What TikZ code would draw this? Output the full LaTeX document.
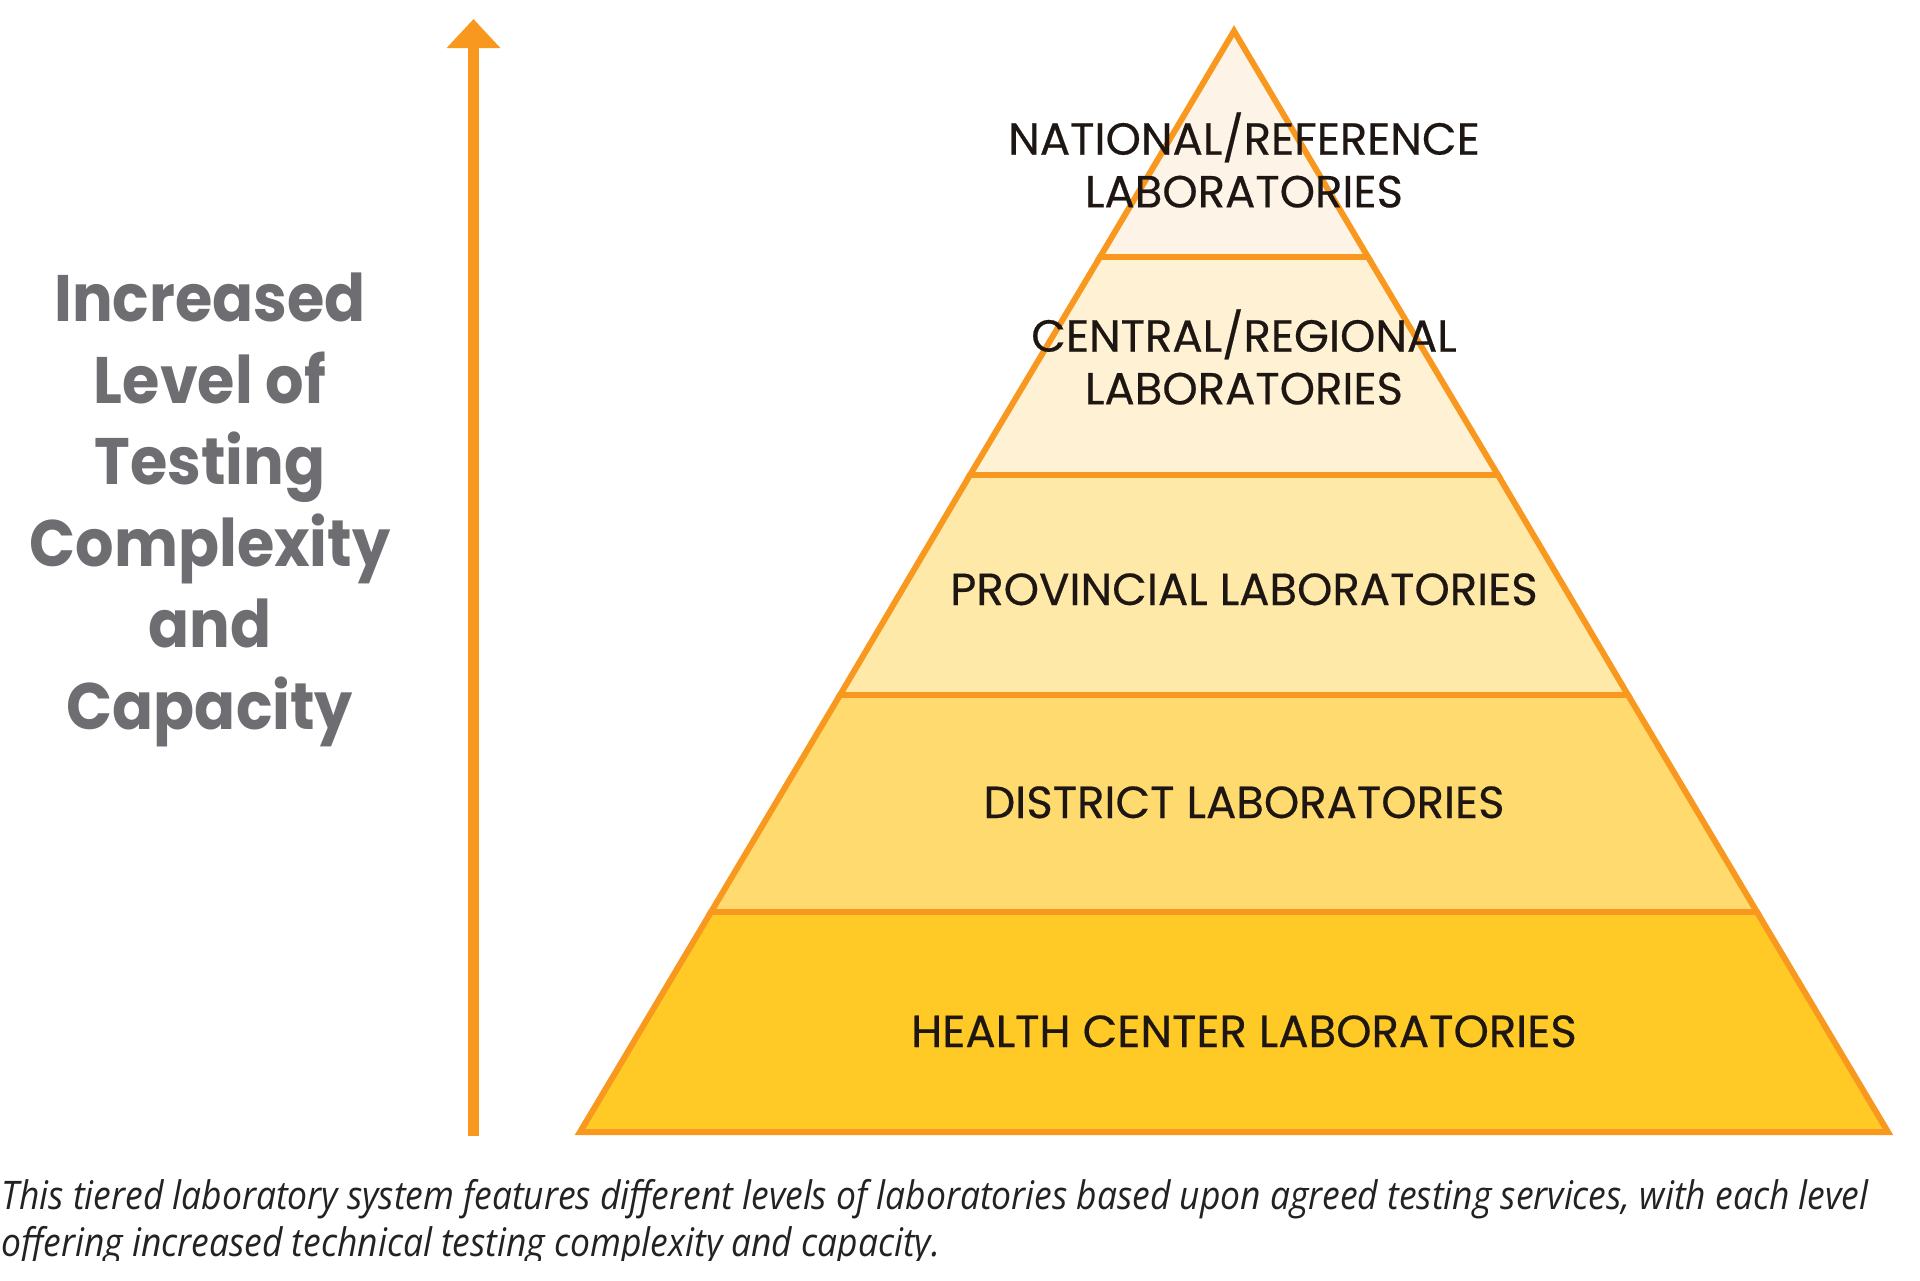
\documentclass[tikz,border=0pt]{standalone}
\usepackage{fontspec}
\usepackage{tikz}
\usetikzlibrary{arrows.meta}
\setmainfont{Open Sans}
\newfontfamily\tierfont{Poppins}[FakeBold=0.4]
\newfontfamily\sidefont{Poppins}[FakeStretch=0.92]
\newfontfamily\capfont{Open Sans}[FakeStretch=0.9]
\definecolor{edgecolor}{RGB}{249,152,30}
\definecolor{tierone}{RGB}{253,243,231}
\definecolor{tiertwo}{RGB}{255,242,212}
\definecolor{tierthree}{RGB}{255,233,169}
\definecolor{tierfour}{RGB}{255,218,111}
\definecolor{tierfive}{RGB}{255,201,38}
\definecolor{labelcolor}{RGB}{30,22,18}
\definecolor{sidecolor}{RGB}{109,109,114}
\definecolor{captioncolor}{RGB}{34,34,34}

\begin{document}
\begin{tikzpicture}[x=0.1mm,y=-0.1mm,
tierlayer/.style={
  draw=edgecolor,
  line width=1.7pt,
  line join=miter},
tierlabel/.style={
  font={\tierfont\fontsize{12.8}{15}\selectfont},
  text=labelcolor,
  align=center,
  inner sep=0pt},
levelarrow/.style={
  draw=edgecolor,
  line width=2.85pt,
  -{Triangle[width=5.2mm,length=2.9mm]}},
]
\useasboundingbox (0,0) rectangle (1920,1280);

% pyramid, top to bottom
\filldraw[tierlayer,fill=tierone]   (1234,31) -- (1368,257) -- (1100,257) -- cycle;
\filldraw[tierlayer,fill=tiertwo]   (1100,257) -- (1368,257) -- (1498,475) -- (970,475) -- cycle;
\filldraw[tierlayer,fill=tierthree] (970,475) -- (1498,475) -- (1628,695) -- (840,695) -- cycle;
\filldraw[tierlayer,fill=tierfour]  (840,695) -- (1628,695) -- (1757,912) -- (711,912) -- cycle;
\filldraw[tierlayer,fill=tierfive]  (711,912) -- (1757,912) -- (1888,1132) -- (580,1132) -- cycle;

\node[tierlabel] (NAT) at (1244,160) {NATIONAL/REFERENCE\\LABORATORIES};
\node[tierlabel] (CEN) at (1244,357) {CENTRAL/REGIONAL\\LABORATORIES};
\node[tierlabel,anchor=base] (PRO) at (1244,605) {PROVINCIAL LABORATORIES};
\node[tierlabel,anchor=base] (DIS) at (1244,818) {DISTRICT LABORATORIES};
\node[tierlabel,anchor=base] (HCL) at (1244,1047) {HEALTH CENTER LABORATORIES};

% arrow and side text
\coordinate (arrowbase) at (473.5,1136);
\coordinate (arrowtip) at (473.5,19);
\draw[levelarrow] (arrowbase) -- (arrowtip);

\node[font={\sidefont\bfseries\fontsize{18.7}{23.2}\selectfont},text=sidecolor,align=center,inner sep=0pt]
  (SIDE) at (210,510) {Increased\\Level of\\Testing\\Complexity\\and\\Capacity};

\begin{scope}
\clip (0,1140) rectangle (1920,1260);
\node[font={\capfont\itshape\fontsize{11.2}{13.2}\selectfont},text=captioncolor,align=left,inner sep=0pt,anchor=north west]
  (CAP) at (1,1179) {This tiered laboratory system features different levels of laboratories based upon agreed testing services, with each level\\offering increased technical testing complexity and capacity.};
\end{scope}
\end{tikzpicture}
\end{document}
